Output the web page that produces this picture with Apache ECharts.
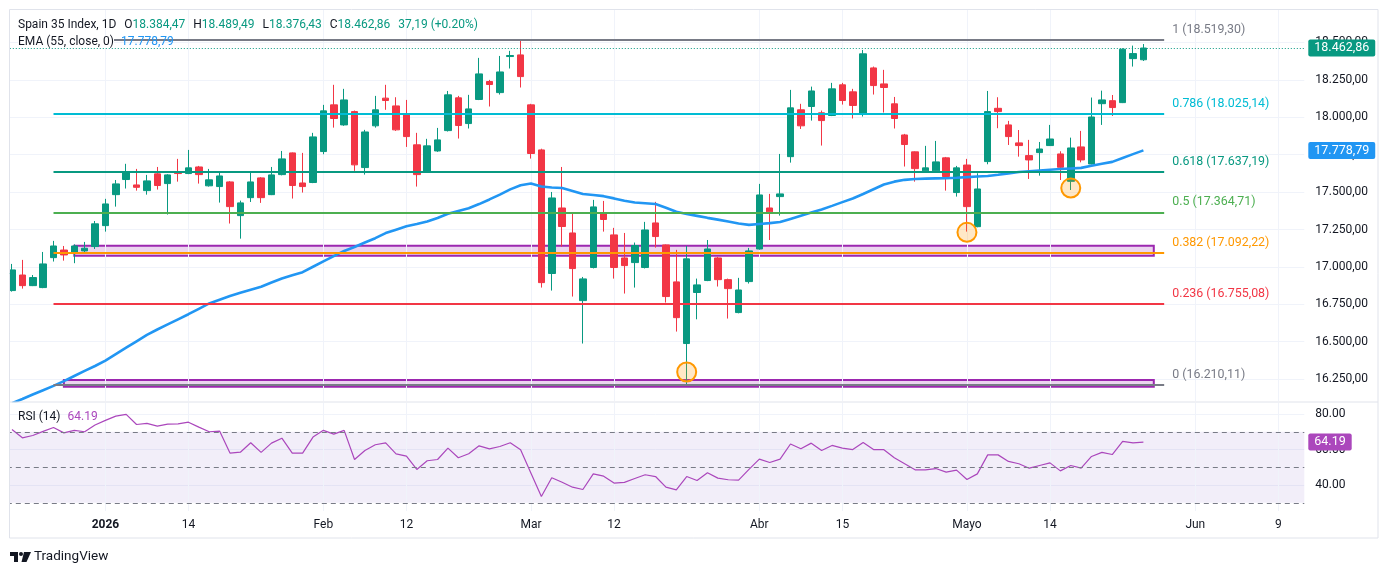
<!DOCTYPE html>
<html><head><meta charset="utf-8">
<script src="https://cdn.jsdelivr.net/npm/echarts@6/dist/echarts.min.js"></script>
<style>html,body{margin:0;padding:0;background:#fff}#c{width:1388px;height:575px}</style>
</head><body><div id="c"></div>
<script>
const tradingDates = [
'2025-12-17','2025-12-18','2025-12-19','2025-12-22','2025-12-23','2025-12-24','2025-12-29','2025-12-30','2025-12-31',
'2026-01-02','2026-01-05','2026-01-06','2026-01-07','2026-01-08','2026-01-09','2026-01-12','2026-01-13','2026-01-14','2026-01-15','2026-01-16','2026-01-19','2026-01-20','2026-01-21','2026-01-22','2026-01-23','2026-01-26','2026-01-27','2026-01-28','2026-01-29','2026-01-30',
'2026-02-02','2026-02-03','2026-02-04','2026-02-05','2026-02-06','2026-02-09','2026-02-10','2026-02-11','2026-02-12','2026-02-13','2026-02-16','2026-02-17','2026-02-18','2026-02-19','2026-02-20','2026-02-23','2026-02-24','2026-02-25','2026-02-26','2026-02-27',
'2026-03-02','2026-03-03','2026-03-04','2026-03-05','2026-03-06','2026-03-09','2026-03-10','2026-03-11','2026-03-12','2026-03-13','2026-03-16','2026-03-17','2026-03-18','2026-03-19','2026-03-20','2026-03-23','2026-03-24','2026-03-25','2026-03-26','2026-03-27','2026-03-30','2026-03-31',
'2026-04-01','2026-04-02','2026-04-07','2026-04-08','2026-04-09','2026-04-10','2026-04-13','2026-04-14','2026-04-15','2026-04-16','2026-04-17','2026-04-20','2026-04-21','2026-04-22','2026-04-23','2026-04-24','2026-04-27','2026-04-28','2026-04-29','2026-04-30',
'2026-05-04','2026-05-05','2026-05-06','2026-05-07','2026-05-08','2026-05-11','2026-05-12','2026-05-13','2026-05-14','2026-05-15','2026-05-18','2026-05-19','2026-05-20','2026-05-21','2026-05-22','2026-05-25','2026-05-26','2026-05-27'
];
const futureDates = ['2026-05-28','2026-05-29','2026-05-30','2026-05-31','2026-06-01','2026-06-02','2026-06-03','2026-06-04','2026-06-05','2026-06-06','2026-06-07','2026-06-08','2026-06-09','2026-06-10','2026-06-11'];

const opens = [16842,16946,16875,16862,17062,17113,17091,17107,17136,17276,
17483,17584,17548,17510,17622,17557,17635,17624,17668,17542,
17537,17568,17343,17463,17595,17483,17617,17762,17561,17564,
17771,18083,17949,18038,17664,17943,18128,18076,18016,17816,
17637,17775,17911,18130,17958,18119,18239,18165,18406,18417,
18083,17782,16956,17394,17227,16775,16996,17357,17214,17060,
17029,16996,17294,17147,16900,16488,16829,16909,17060,16915,
16695,16902,17120,17394,17470,17737,18050,18072,18030,18012,
18217,18170,18021,18330,18223,18090,17882,17769,17642,17642,
17729,17497,17681,17269,17704,18060,17949,17829,17744,17764,
17811,17755,17572,17802,17688,18091,18111,18098,18392,18384.47];
const highs = [17020,17047,16946,17100,17174,17140,17151,17167,17307,17455,
17581,17689,17655,17615,17668,17620,17722,17782,17675,17655,
17631,17573,17443,17631,17600,17668,17775,17765,17762,17896,
18083,18217,18190,18045,17916,18143,18217,18134,18116,17896,
17856,17929,18176,18143,18150,18397,18250,18410,18444,18519.30,
18090,17790,17501,17668,17361,16933,17448,17441,17261,17227,
17163,17301,17435,17150,17114,17140,16922,17180,17067,16922,
16927,17127,17555,17488,17755,18183,18090,18205,18045,18230,
18230,18190,18450,18339,18317,18136,17889,17772,17809,17842,
17735,17675,17722,17626,18176,18134,17976,17915,17849,17835,
17949,17773,17864,17909,18132,18178,18149,18461,18479,18489.49];
const lows = [16835,16855,16872,16858,17036,17042,17025,17096,17120,17236,
17403,17524,17510,17483,17517,17350,17570,17620,17557,17537,
17430,17290,17189,17434,17428,17480,17612,17457,17497,17560,
17753,17931,17943,17642,17617,17931,18050,17909,17802,17537,
17632,17769,17905,17858,17925,18115,18072,18152,18326,18199,
17724,16862,16842,17136,16802,16488,16990,17236,16922,16822,
16862,16990,17129,16762,16568,16210.11,16650,16905,16869,16655,
16690,16889,17115,17180,17343,17697,17922,17978,17811,18008,
18085,17992,18005,18152,18032,17925,17671,17570,17640,17640,
17510,17470,17236,17265,17686,17927,17815,17737,17588,17610,
17808,17581,17514,17699,17685,17949,18009,18095,18339,18376.43];
const closes = [16980,16875,16929,17020,17140,17080,17140,17125,17288,17421,
17555,17637,17532,17575,17544,17615,17624,17662,17617,17582,
17608,17403,17428,17568,17463,17615,17722,17544,17537,17869,
18043,17992,18116,17682,17902,18050,18112,17916,17871,17617,
17809,17849,18150,17945,18056,18290,18219,18303,18413,18272,
17758,16895,17461,17270,16989,16920,17401,17317,16996,17009,
17143,17247,17203,16802,16661,17054,16880,17120,16915,16855,
16846,17107,17481,17368,17488,18063,17943,18176,17978,18190,
18112,18079,18424,18212,18199,17992,17818,17657,17662,17702,
17604,17662,17403,17521,18038,18038,17871,17811,17715,17788,
17855,17666,17795,17715,18002,18116,18065,18455,18425.67,18462.86];
const ema55 = [16090,16117,16147,16176,16205,16237,16271,16305,16338,16374,
16417,16460,16503,16546,16582,16616,16650,16684,16720,16756,
16781,16806,16827,16848,16868,16896,16923,16945,16965,17001,
17037,17072,17107,17133,17163,17192,17226,17249,17272,17287,
17303,17327,17355,17374,17392,17420,17451,17483,17518,17546,
17558,17537,17531,17527,17508,17487,17481,17473,17458,17442,
17431,17426,17421,17396,17369,17354,17341,17328,17316,17303,
17290,17281,17287,17293,17300,17321,17342,17363,17384,17408,
17433,17457,17487,17519,17551,17570,17582,17588,17590,17592,
17593,17596,17600,17604,17608,17616,17625,17634,17639,17644,
17649,17654,17658,17662,17676,17689,17702,17728,17754,17778.79];
const rsi14 = [71.3,66.6,67.9,70.2,72.4,69.4,70.8,70.0,73.8,76.4,
78.8,79.8,74.1,74.7,73.2,74.3,74.5,75.4,72.6,70.0,
70.4,58.0,58.5,63.8,58.4,63.6,66.4,58.0,58.0,67.0,
70.8,68.7,70.8,54.4,59.5,62.7,63.8,57.6,56.3,48.8,
53.7,54.4,60.8,55.4,57.6,62.1,60.4,61.7,63.8,59.9,
46.7,33.6,44.1,41.6,38.8,37.5,46.3,45.0,41.1,41.5,
43.7,45.8,44.8,38.8,37.3,44.8,42.6,46.9,43.9,43.0,
42.8,48.8,54.6,52.7,54.6,63.1,60.4,63.6,59.5,62.3,
60.8,60.0,64.0,60.0,59.9,55.4,52.0,48.6,48.6,49.3,
47.3,48.4,43.1,46.3,57.0,57.0,53.3,52.0,49.5,51.0,
52.5,48.0,51.0,49.5,56.1,58.4,57.2,64.6,63.8,64.19];

const fibRatios = ['1','0.786','0.618','0.5','0.382','0.236','0'];
const fibValues = [18519.30,18025.14,17637.19,17364.71,17092.22,16755.08,16210.11];
const fibFrom = '2025-12-23', fibTo = '2026-05-29';
const zoneFrom = ['2025-12-29','2025-12-24'];
const zoneTo = ['2026-05-28','2026-05-28'];
const zoneTop = [17142,16244];
const zoneBottom = [17075,16199];
const pivotDates = ['2026-03-23','2026-05-04','2026-05-18'];
const pivotValues = [16298,17231,17527];
const priceTicks = [16250,16500,16750,17000,17250,17500,17750,18000,18250,18500];
const rsiTicks = [40,60,80];
const rsiLevels = [70,50,30];
const xTickDates = ['2026-01-02','2026-01-14','2026-02-02','2026-02-12','2026-03-02','2026-03-12','2026-04-01','2026-04-15','2026-05-04','2026-05-14','2026-06-01','2026-06-09'];
const xTickTexts = ['2026','14','Feb','12','Mar','12','Abr','15','Mayo','14','Jun','9'];
const emaLength = 55, rsiLength = 14, symbolName = 'Spain 35 Index', timeframe = '1D';

const FONT = 'Roboto, "Noto Sans", sans-serif';
const fibColors = ['#787b86','#00bcd4','#089981','#4caf50','#ff9800','#f23645','#787b86'];
const UP = '#089981', DOWN = '#f23645', TXT = '#131722';

function fmtEs(v){
  const s = Math.abs(v).toFixed(2); const p = s.split('.');
  return (v<0?'-':'') + p[0].replace(/\B(?=(\d{3})+(?!\d))/g,'.') + ',' + p[1];
}
const cats = tradingDates.concat(futureDates);
const last = tradingDates.length - 1;
const candleData = tradingDates.map((d,i)=>[opens[i],closes[i],lows[i],highs[i]]);
const labelMap = {}; xTickDates.forEach((d,i)=>labelMap[d]=xTickTexts[i]);
const chg = closes[last]-closes[last-1];
const pct = chg/closes[last-1]*100;

const fibLines = fibValues.map((v,i)=>[
  {coord:[fibFrom,v], lineStyle:{color:fibColors[i],width:2,type:'solid'},
   label:{show:true,position:'end',distance:8,formatter:'{a|'+fibRatios[i]+' ('+fmtEs(v)+')}\n{b| }',lineHeight:20,
     rich:{a:{color:fibColors[i],fontSize:12.4,fontFamily:FONT,lineHeight:20},b:{fontSize:12,lineHeight:20}}}},
  {coord:[fibTo,v]}
]);
const tag = (v,bg,txt)=>({yAxis:v, lineStyle:{color:'rgba(0,0,0,0)',width:0},
  label:{show:true,position:'end',distance:4,formatter:txt,color:'#fff',backgroundColor:bg,padding:[2,6,2,6],borderRadius:2,fontSize:12.5,fontFamily:FONT,opacity:1}});

const vlines = xTickDates.map(d=>({xAxis:d}));
const vlineStyle = {silent:true,symbol:['none','none'],z:1,label:{show:false},lineStyle:{color:'#f0f3fa',width:1,type:'solid'},emphasis:{disabled:true}};

const chart = echarts.init(document.getElementById('c'));
chart.setOption({
  animation:false,
  textStyle:{fontFamily:FONT},
  grid:[{left:6.8,right:83.7,top:10,height:391},{left:6.8,right:83.7,top:403,height:108}],
  xAxis:[
    {type:'category',gridIndex:0,data:cats,boundaryGap:true,axisLine:{show:false},axisTick:{show:false},axisLabel:{show:false},splitLine:{show:false}},
    {type:'category',gridIndex:1,data:cats,boundaryGap:true,axisLine:{show:false},axisTick:{show:false},splitLine:{show:false},
     axisLabel:{interval:(i,v)=>labelMap[v]!==undefined,formatter:(v)=>{const t=labelMap[v]||''; return /^\d{4}$/.test(t)?'{y|'+t+'}':t;},
       color:TXT,fontSize:12,margin:8,fontFamily:FONT,rich:{y:{fontWeight:'bold',fontSize:12,color:TXT,fontFamily:FONT}}}}
  ],
  yAxis:[
    {type:'value',gridIndex:0,position:'right',min:16104,max:18717,
     axisLine:{show:false},axisTick:{show:false,customValues:priceTicks},
     axisLabel:{customValues:priceTicks,formatter:v=>fmtEs(v),color:TXT,fontSize:12,margin:11,fontFamily:FONT},
     splitLine:{show:true,lineStyle:{color:'#f0f3fa',width:1}}},
    {type:'value',gridIndex:1,position:'right',min:25.4,max:86.2,
     axisLine:{show:false},axisTick:{show:false,customValues:rsiTicks},
     axisLabel:{customValues:rsiTicks,formatter:v=>v.toFixed(2),color:TXT,fontSize:12,margin:11,fontFamily:FONT},
     splitLine:{show:true,lineStyle:{color:'#f0f3fa',width:1}}}
  ],
  series:[
    {type:'line',xAxisIndex:0,yAxisIndex:0,data:[],silent:true,markLine:Object.assign({data:vlines},vlineStyle)},
    {type:'line',xAxisIndex:1,yAxisIndex:1,data:[],silent:true,markLine:Object.assign({data:vlines},vlineStyle)},
    {name:symbolName,type:'candlestick',xAxisIndex:0,yAxisIndex:0,data:candleData,barWidth:7,z:3,
     itemStyle:{color:UP,color0:DOWN,borderColor:UP,borderColor0:DOWN,borderWidth:1},
     markArea:{silent:true,z:1,itemStyle:{color:'rgba(156,39,176,0.2)',borderColor:'#9c27b0',borderWidth:2},
       data:zoneTop.map((t,i)=>[{coord:[zoneFrom[i],t]},{coord:[zoneTo[i],zoneBottom[i]]}])},
     markPoint:{silent:true,z:6,symbol:'circle',symbolSize:19,label:{show:false},
       itemStyle:{color:'rgba(255,152,0,0.22)',borderColor:'#ff9800',borderWidth:2},
       data:pivotDates.map((d,i)=>({coord:[d,pivotValues[i]]}))},
     markLine:{silent:true,z:5,symbol:['none','none'],precision:2,emphasis:{disabled:true},
       data:[
         ...fibLines,
         {yAxis:closes[last],lineStyle:{color:UP,width:1,type:[1,2]},
          label:{show:true,position:'end',distance:4,formatter:fmtEs(closes[last]),color:'#fff',backgroundColor:UP,padding:[2,6,2,6],borderRadius:2,fontSize:12.5,fontFamily:FONT}},
         tag(ema55[last],'#2196f3',fmtEs(ema55[last]))
       ]}},
    {name:'EMA',type:'line',xAxisIndex:0,yAxisIndex:0,data:ema55,showSymbol:false,z:4,silent:true,
     lineStyle:{color:'#2196f3',width:2.6},itemStyle:{color:'#2196f3'}},
    {name:'RSI',type:'line',xAxisIndex:1,yAxisIndex:1,data:rsi14,showSymbol:false,z:4,silent:true,
     lineStyle:{color:'#ab47bc',width:1.2},itemStyle:{color:'#ab47bc'},
     markArea:{silent:true,z:0,itemStyle:{color:'rgba(126,87,194,0.1)'},data:[[{yAxis:rsiLevels[0]},{yAxis:rsiLevels[2]}]]},
     markLine:{silent:true,z:5,symbol:['none','none'],emphasis:{disabled:true},
       data:[
         ...rsiLevels.map(l=>({yAxis:l,lineStyle:{color:'#787b86',width:1,type:[5,4]},label:{show:false}})),
         tag(rsi14[last],'#ab47bc',rsi14[last].toFixed(2))
       ]}}
  ],
  graphic:[
    {type:'rect',silent:true,z:99,shape:{x:0,y:0,width:9,height:575},style:{fill:'#fff'}},
    {type:'rect',silent:true,z:100,shape:{x:9.5,y:9.5,width:1368.5,height:528.5},style:{fill:'none',stroke:'#e0e3eb',lineWidth:1}},
    {type:'line',silent:true,z:100,shape:{x1:10,y1:402,x2:1378,y2:402},style:{stroke:'#e0e3eb',lineWidth:1}},
    {type:'text',silent:true,z:101,x:18,y:25,style:{
      text:'{t|'+symbolName+', '+timeframe+'}{g| }{k|O}{v|'+fmtEs(opens[last])+'}{g| }{k|H}{v|'+fmtEs(highs[last])+'}{g| }{k|L}{v|'+fmtEs(lows[last])+'}{g| }{k|C}{v|'+fmtEs(closes[last])+'}{g| }{v|'+fmtEs(chg)+' ('+(chg>=0?'+':'')+pct.toFixed(2)+'%)}',
      verticalAlign:'middle',
      rich:{t:{fill:TXT,fontSize:12,fontFamily:FONT},g:{width:8,fontSize:12},k:{fill:TXT,fontSize:12,fontFamily:FONT},v:{fill:UP,fontSize:12,fontFamily:FONT}}}},
    {type:'text',silent:true,z:101,x:18,y:42,style:{
      text:'{t|EMA ('+emaLength+', close, 0)}{g| }{e|'+fmtEs(ema55[last])+'}',
      verticalAlign:'middle',
      rich:{t:{fill:TXT,fontSize:12,fontFamily:FONT,backgroundColor:'#fff'},g:{width:7,fontSize:12},e:{fill:'#2196f3',fontSize:12,fontFamily:FONT}}}},
    {type:'text',silent:true,z:101,x:18,y:417,style:{
      text:'{t|RSI ('+rsiLength+')}{g| }{r|'+rsi14[last].toFixed(2)+'}',
      verticalAlign:'middle',
      rich:{t:{fill:TXT,fontSize:12,fontFamily:FONT},g:{width:7,fontSize:12},r:{fill:'#ab47bc',fontSize:12,fontFamily:FONT}}}},
    {type:'group',silent:true,z:101,children:[
      {type:'rect',shape:{x:10,y:552,width:8,height:4},style:{fill:TXT}},
      {type:'rect',shape:{x:14,y:552,width:4,height:10},style:{fill:TXT}},
      {type:'circle',shape:{cx:21,cy:554,r:2},style:{fill:TXT}},
      {type:'polygon',shape:{points:[[24,552],[31,552],[26.5,562],[21.5,562]]},style:{fill:TXT}},
      {type:'text',x:34,y:557,style:{text:'TradingView',fill:TXT,fontSize:13.5,fontFamily:FONT,verticalAlign:'middle'}}
    ]}
  ]
});
</script></body></html>
